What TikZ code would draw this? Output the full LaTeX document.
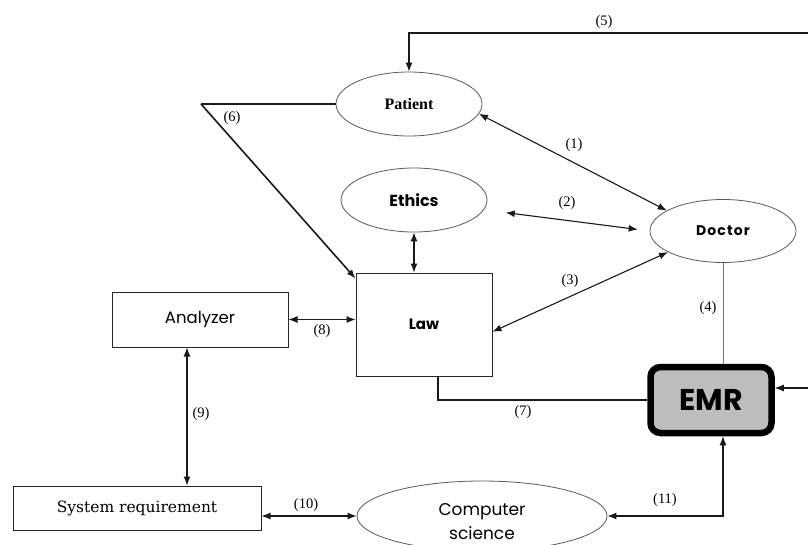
\documentclass[tikz,border=0pt]{standalone}
\usepackage{fontspec}
\setmainfont{Liberation Serif}
\newfontfamily\gothic{Poppins}
\newfontfamily\gothicwide[LetterSpace=8]{Poppins}
\newfontfamily\slab{DejaVu Serif}
\usetikzlibrary{shapes.geometric,arrows.meta}

\begin{document}
\begin{tikzpicture}[x=1pt,y=-1pt,>={Latex[length=9pt,width=7pt]}]
   \useasboundingbox (0,0) rectangle (808,544);
   \clip (0,0) rectangle (808,544);
   \tikzstyle{oval}=[ellipse, draw=black!65, line width=0.8pt, minimum width=146pt, minimum height=64pt, inner sep=0pt]
   \tikzstyle{box}=[rectangle, draw=black!85, line width=1pt, inner sep=0pt]
   \tikzstyle{num}=[font=\fontsize{14.5}{16}\selectfont, inner sep=0pt]
   \tikzstyle{link}=[draw=black!90, line width=1.1pt]
   \node[oval, font=\bfseries\fontsize{16}{18}\selectfont] (patient) at (409,104) {Patient};
   \node[oval, font=\gothic\bfseries\fontsize{16}{18}\selectfont] (ethics) at (414,200) {Ethics};
   \node[oval, minimum height=63pt, font=\gothicwide\bfseries\fontsize{14}{16}\selectfont] (doctor) at (723,231) {Doctor};
   \node[box, minimum width=136pt, minimum height=103pt, font=\gothic\bfseries\fontsize{15}{17}\selectfont] (law) at (424,324.5) {Law};
   \node[box, minimum width=176pt, minimum height=55pt, font=\gothic\fontsize{16.5}{18}\selectfont] (analyzer) at (200,319.5) {Analyzer};
   \node[box, minimum width=248pt, minimum height=44pt, font=\slab\fontsize{15.5}{17}\selectfont] (sysreq) at (137,508) {System requirement};
   \node[rectangle, rounded corners=10pt, draw=black, line width=6.5pt, fill=black!26, minimum width=121pt, minimum height=66pt, font=\gothic\bfseries\fontsize{30}{32}\selectfont] (emr) at (711,400) {EMR};
   \node[oval, minimum width=250pt, minimum height=70pt,
         label={[yshift=-6pt, align=center, font=\gothic\fontsize{17}{24}\selectfont]center:Computer\\science}] (cs) at (482,516) {};
   \foreach \n/\x/\y in {1/574/145, 2/567/203, 3/570/281, 4/708/308, 5/604/22, 6/232/118,
                         7/523/412, 8/322/331, 9/201/414, 10/306/505, 11/665/500}
      \node[num] (n\n) at (\x,\y) {(\n)};
   \coordinate (five) at (808,33);
   \coordinate (six) at (201,104);
   \coordinate (feed) at (808,388);
   \path (patient.-8) edge[link, <->] (doctor.160);
   \path (ethics.-8) edge[link, <->, shorten <=22pt, shorten >=12pt] (doctor.west);
   \path (doctor.201) edge[link, <->] (law.-6);
   \path (ethics.south) edge[link, <->] (ethics.south |- law.north);
   \draw[link, ->] (five) -- (five -| patient.north) -- (patient.north);
   \draw[link] (patient.west) -- (six);
   \draw[link, line width=1.6pt, ->] (six) -- ([yshift=-6pt]law.north west);
   \draw[link, ->] (feed) -- (feed -| emr.east);
   \draw[black!55, line width=0.9pt] (doctor.south) -- (doctor.south |- emr.north);
   \draw[link] ([xshift=14pt]law.south) |- (emr.west);
   \path (analyzer.east) edge[link, <->] (analyzer.east -| law.west);
   \path ([xshift=-13pt]analyzer.south) edge[link, <->] ([xshift=-13pt]analyzer.south |- sysreq.north);
   \path (sysreq.east |- cs.west) edge[link, <->] (cs.west);
   \draw[link, <->] (cs.east) -| ([xshift=12pt]emr.south);
\end{tikzpicture}
\end{document}
